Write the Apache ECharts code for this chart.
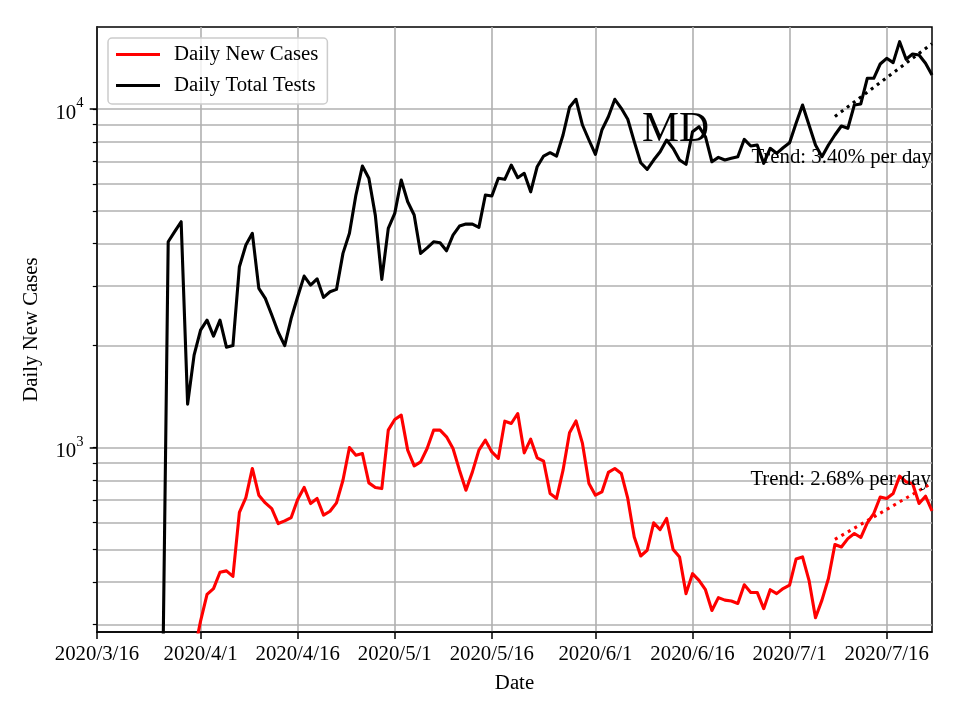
<!DOCTYPE html>
<html>
<head>
<meta charset="utf-8">
<script src="https://cdn.jsdelivr.net/npm/echarts@6/dist/echarts.min.js"></script>
<style>
html,body{margin:0;padding:0;background:#fff;}
#chart{width:960px;height:720px;}
</style>
</head>
<body>
<div id="chart"></div>
<script>
// ---- data ----
const axisStart = '2020-03-16';
const axisEnd = '2020-07-23';
const xTickDates = ['2020-03-16','2020-04-01','2020-04-16','2020-05-01','2020-05-16','2020-06-01','2020-06-16','2020-07-01','2020-07-16'];
const yMinorTicks = [300,400,500,600,700,800,900,1000,2000,3000,4000,5000,6000,7000,8000,9000,10000];
const yMajorTicks = [1000,10000];

const casesStart = '2020-03-31';
const dailyNewCases = [
  247,307,368,383,428,432,416,643,711,867,723,686,660,596,607,621,702,762,683,707,
  631,648,686,800,1000,949,960,786,762,756,1125,1210,1246,982,882,907,993,1125,1125,1075,
  993,857,748,847,982,1051,970,928,1196,1177,1260,964,1058,932,911,731,707,857,1105,1198,
  1028,783,723,739,844,867,838,707,544,478,497,599,572,617,500,475,370,424,405,380,
  330,360,354,352,346,393,373,373,334,380,370,383,392,468,475,405,314,354,410,517,
  508,538,557,542,599,638,714,707,731,823,791,783,683,718,650
];

const testsStart = '2020-03-26';
const dailyTotalTests = [
  119,4053,4340,4645,1343,1874,2222,2377,2134,2377,1979,2000,3420,3963,4292,2951,2757,2463,2190,2000,
  2406,2788,3209,3018,3151,2776,2884,2931,3745,4292,5569,6784,6240,4850,3138,4440,4917,6168,5321,4861,
  3745,3890,4053,4025,3812,4242,4510,4571,4571,4470,5569,5531,6240,6198,6830,6266,6456,5693,6752,7261,
  7427,7261,8379,10116,10683,8969,8099,7347,8667,9489,10683,10046,9324,8008,6939,6634,7068,7478,8099,7652,
  7068,6864,8568,8866,8282,6985,7197,7068,7150,7228,8136,7775,7828,6909,7652,7396,7684,7952,9073,10275,
  8969,7828,7228,7828,8379,8909,8770,10275,10347,12324,12324,13583,14117,13708,15811,14022,14540,14440,13651,12604
];

const trendDates = ['2020-07-08','2020-07-23'];
const casesTrend = [535, 785];
const testsTrend = [9500, 15600];

const stateLabel = 'MD';
const testsTrendLabel = 'Trend: 3.40% per day';
const casesTrendLabel = 'Trend: 2.68% per day';

// ---- helpers ----
const DAY = 86400000;
function ts(s){ const p = s.split('-').map(Number); return Date.UTC(p[0], p[1]-1, p[2]); }
function series(startStr, vals){ const t0 = ts(startStr); return vals.map((v,i)=>[t0 + i*DAY, v]); }
function fmtDate(v){ const d = new Date(v); return d.getUTCFullYear() + '/' + (d.getUTCMonth()+1) + '/' + d.getUTCDate(); }

const FONT = '"Liberation Serif", "Times New Roman", serif';
const FS = 20.8;

const chart = echarts.init(document.getElementById('chart'), null, {renderer:'canvas'});
const gridColor = '#b0b0b0';

chart.setOption({
  animation: false,
  backgroundColor: '#ffffff',
  textStyle: {fontFamily: FONT},
  grid: {left: 97, right: 28, top: 27, bottom: 88, show: true, borderColor: '#000', borderWidth: 1.5, backgroundColor: 'transparent'},
  legend: {
    left: 108, top: 38, orient: 'vertical',
    data: ['Daily New Cases', 'Daily Total Tests'],
    icon: 'rect', itemWidth: 44, itemHeight: 3, itemGap: 10,
    padding: [6, 9, 8, 8],
    backgroundColor: 'rgba(255,255,255,0.8)', borderColor: '#cccccc', borderWidth: 1.5, borderRadius: 4,
    textStyle: {fontFamily: FONT, fontSize: FS, color: '#000', padding: [0,0,0,9]},
    selectedMode: false
  },
  xAxis: {
    type: 'value',
    min: ts(axisStart), max: ts(axisEnd),
    name: 'Date', nameLocation: 'middle', nameGap: 41,
    nameTextStyle: {fontFamily: FONT, fontSize: FS, color: '#000'},
    axisLine: {show: true, lineStyle: {color: '#000', width: 1.5}},
    axisTick: {show: true, customValues: xTickDates.map(ts), length: 7, lineStyle: {color: '#000', width: 1.5}},
    axisLabel: {customValues: xTickDates.map(ts), formatter: fmtDate, margin: 12.5, fontFamily: FONT, fontSize: FS, color: '#000', hideOverlap: false},
    splitLine: {show: true, lineStyle: {color: gridColor, width: 1.6}}
  },
  yAxis: [{
    type: 'log', logBase: 10, min: 285, max: 17470, position: 'left',
    name: 'Daily New Cases', nameLocation: 'middle', nameGap: 55,
    nameTextStyle: {fontFamily: FONT, fontSize: FS, color: '#000'},
    axisLine: {show: true, lineStyle: {color: '#000', width: 1.5}},
    axisTick: {show: true, customValues: yMinorTicks, length: 4.2, lineStyle: {color: '#000', width: 1.2}},
    axisLabel: {show: false},
    splitLine: {show: true, lineStyle: {color: gridColor, width: 1.6}}
  }, {
    type: 'log', logBase: 10, min: 285, max: 17470, position: 'left', gridIndex: 0,
    axisLine: {show: false},
    axisTick: {show: true, customValues: yMajorTicks, length: 7.3, lineStyle: {color: '#000', width: 1.5}},
    axisLabel: {
      customValues: yMajorTicks, margin: 13.5,
      formatter: v => '{b|10}{e|' + Math.round(Math.log10(v)) + '}',
      rich: {
        b: {fontFamily: FONT, fontSize: FS, color: '#000', lineHeight: 21, padding: [9,0,0,0]},
        e: {fontFamily: FONT, fontSize: 14.6, color: '#000', lineHeight: 15, padding: [2,0,13,0]}
      }
    },
    splitLine: {show: false}
  }],
  series: [
    {name: 'Daily New Cases', type: 'line', data: series(casesStart, dailyNewCases), showSymbol: false, symbol: 'none',
     color: '#ff0000', lineStyle: {color: '#ff0000', width: 3.1, join: 'round'}, emphasis: {disabled: true}, z: 3},
    {name: 'Daily Total Tests', type: 'line', data: series(testsStart, dailyTotalTests), showSymbol: false, symbol: 'none',
     color: '#000000', lineStyle: {color: '#000000', width: 3.1, join: 'round'}, emphasis: {disabled: true}, z: 3},
    {name: 'casesTrend', type: 'line', data: trendDates.map((d,i)=>[ts(d), casesTrend[i]]), showSymbol: false, symbol: 'none',
     lineStyle: {color: '#ff0000', width: 3.1, type: [3, 4.5], cap: 'butt'}, emphasis: {disabled: true}, z: 4},
    {name: 'testsTrend', type: 'line', data: trendDates.map((d,i)=>[ts(d), testsTrend[i]]), showSymbol: false, symbol: 'none',
     lineStyle: {color: '#000000', width: 3.1, type: [3, 4.5], cap: 'butt'}, emphasis: {disabled: true}, z: 4}
  ],
  graphic: [
    {type: 'text', x: 642, y: 130, z: 100, style: {text: stateLabel, font: '41.6px ' + FONT, fill: '#000', align: 'left', verticalAlign: 'middle'}},
    {type: 'text', x: 932, y: 158, z: 100, style: {text: testsTrendLabel, font: FS + 'px ' + FONT, fill: '#000', align: 'right', verticalAlign: 'middle'}},
    {type: 'text', x: 931, y: 480, z: 100, style: {text: casesTrendLabel, font: FS + 'px ' + FONT, fill: '#000', align: 'right', verticalAlign: 'middle'}}
  ]
});
</script>
</body>
</html>
